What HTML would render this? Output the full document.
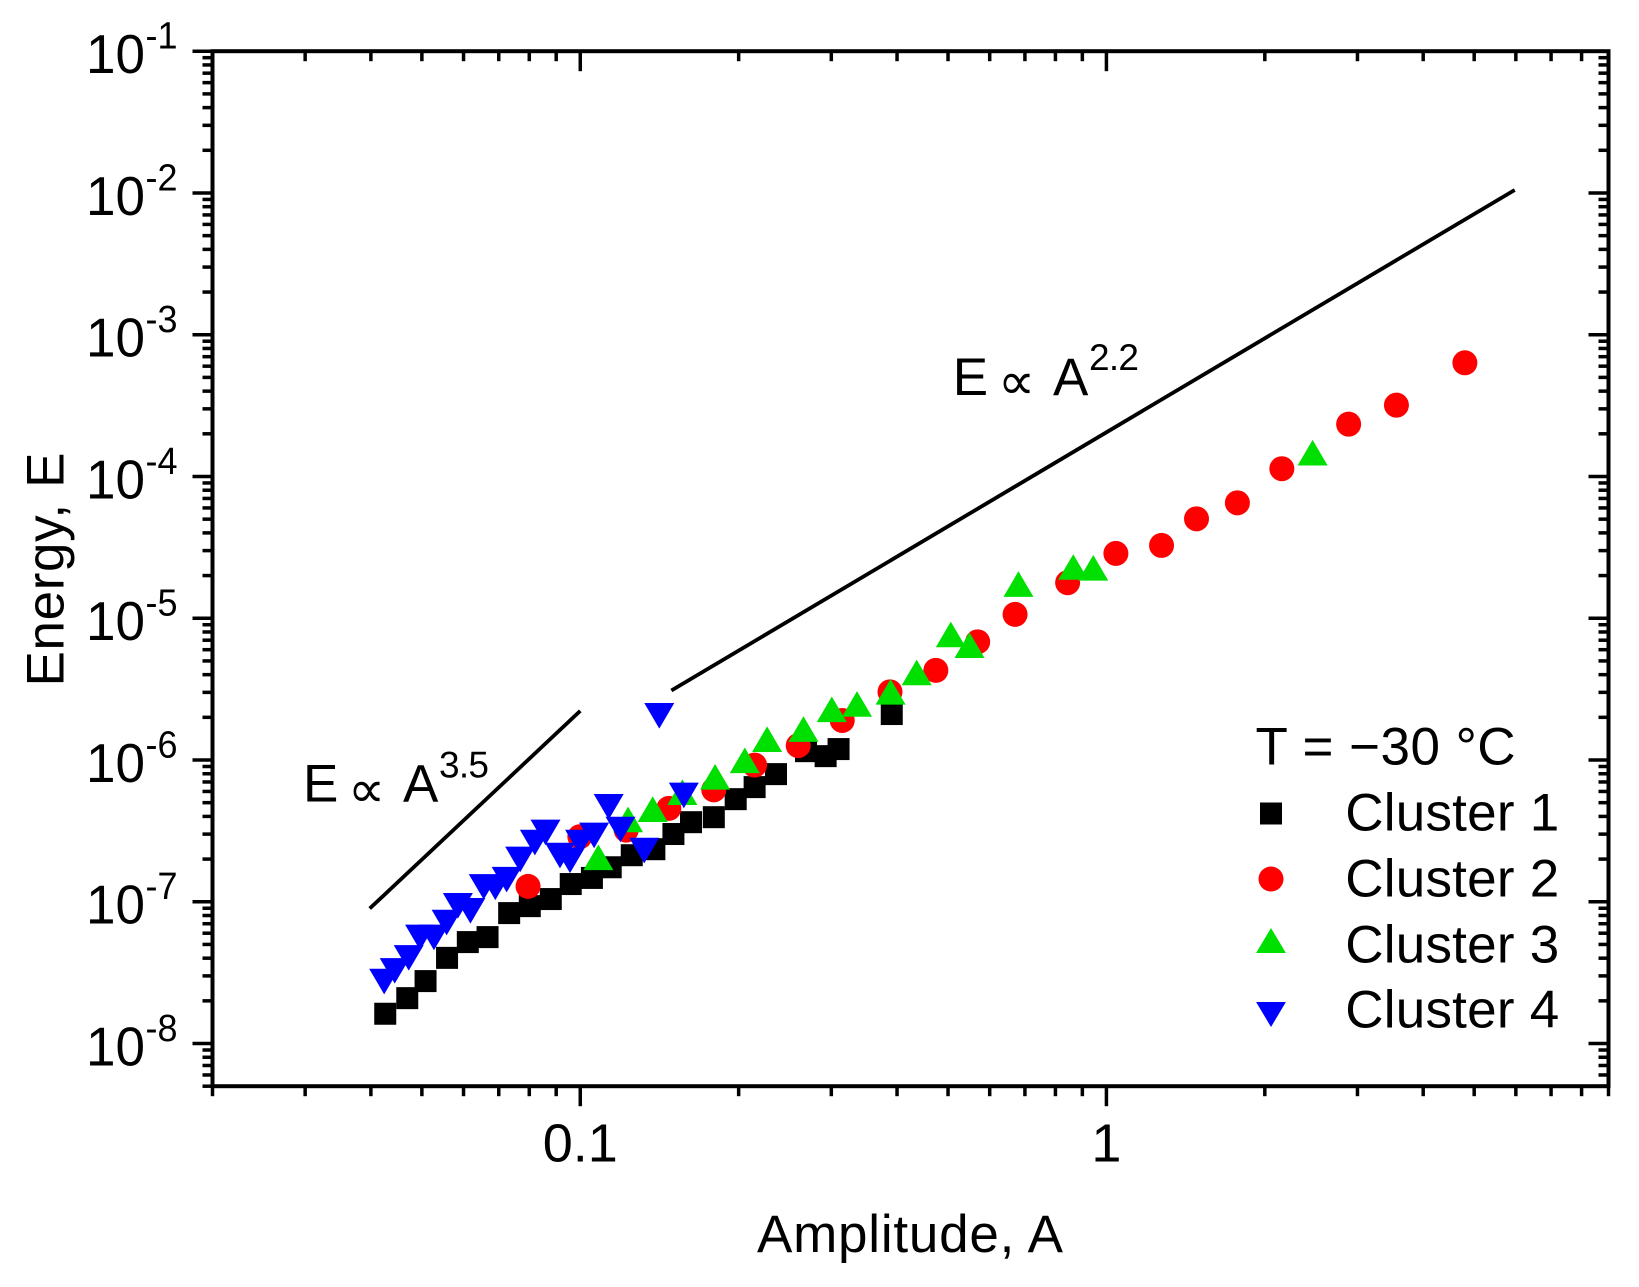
<!DOCTYPE html>
<html lang="en">
<head>
<meta charset="utf-8">
<title>Energy vs Amplitude</title>
<style>
html,body{margin:0;padding:0;background:#fff;}
svg{display:block;}
text{font-family:"Liberation Sans",Arial,sans-serif;fill:#000;}
.prop{font-family:"DejaVu Sans",sans-serif;font-size:52px;}
.big{font-size:53px;}
.sup{font-size:37px;}
</style>
</head>
<body>
<svg id="chart" xmlns="http://www.w3.org/2000/svg" width="1639" height="1287" viewBox="0 0 1639 1287">
  <rect x="0" y="0" width="1639" height="1287" fill="#fff"/>
  <g id="ticks"></g>
  <g id="labels"></g>
  <g id="marks"></g>
  <g id="guides"></g>
  <rect x="212.5" y="51.2" width="1396" height="1035" fill="none" stroke="#000" stroke-width="4"/>

  <text class="big" x="757" y="1252" textLength="306" lengthAdjust="spacing">Amplitude, A</text>
  <text class="big" transform="translate(63.3,686.5) rotate(-90)" x="0" y="0" textLength="234" lengthAdjust="spacing">Energy, E</text>

  <g>
    <text class="big" x="303" y="801.7">E</text>
    <text class="prop" x="348" y="807">∝</text>
    <text class="big" x="403" y="801.7">A</text>
    <text class="sup" x="439" y="777.3" textLength="50" lengthAdjust="spacing">3.5</text>
  </g>
  <g>
    <text class="big" x="952.7" y="395">E</text>
    <text class="prop" x="998" y="399">∝</text>
    <text class="big" x="1053" y="395">A</text>
    <text class="sup" x="1089" y="370" textLength="50" lengthAdjust="spacing">2.2</text>
  </g>

  <g>
    <text class="big" x="1255.5" y="764.3" textLength="260" lengthAdjust="spacing">T = −30 °C</text>
    <rect x="1260" y="802.5" width="22" height="22" fill="#000"/>
    <text class="big" x="1345.2" y="830.7" textLength="214" lengthAdjust="spacing">Cluster 1</text>
    <circle cx="1271" cy="879" r="12.5" fill="#ff0000"/>
    <text class="big" x="1345.2" y="896.7" textLength="214" lengthAdjust="spacing">Cluster 2</text>
    <polygon points="1271,928 1285.9,953 1256.1,953" fill="#00e000"/>
    <text class="big" x="1345.2" y="962.3" textLength="214" lengthAdjust="spacing">Cluster 3</text>
    <polygon points="1256.1,1002 1285.9,1002 1271,1027" fill="#0000ff"/>
    <text class="big" x="1345.2" y="1027.7" textLength="214" lengthAdjust="spacing">Cluster 4</text>
  </g>
</svg>
<script>
// ---- data ----
const cluster1A = [0.0425,0.0468,0.0507,0.0557,0.0610,0.0665,0.0731,0.0800,0.0877,0.0957,0.105,0.114,0.125,0.138,0.150,0.162,0.179,0.197,0.214,0.235,0.268,0.292,0.309,0.390];
const cluster1E = [1.63e-8,2.10e-8,2.77e-8,4.04e-8,5.22e-8,5.66e-8,8.36e-8,9.36e-8,1.05e-7,1.34e-7,1.48e-7,1.76e-7,2.14e-7,2.36e-7,3.02e-7,3.66e-7,3.97e-7,5.32e-7,6.47e-7,7.99e-7,1.16e-6,1.07e-6,1.20e-6,2.12e-6];
const cluster2A = [0.0794,0.0996,0.122,0.147,0.179,0.214,0.259,0.314,0.387,0.473,0.568,0.669,0.842,1.04,1.27,1.48,1.77,2.15,2.88,3.55,4.79];
const cluster2E = [1.29e-7,2.89e-7,3.22e-7,4.58e-7,6.19e-7,9.25e-7,1.27e-6,1.91e-6,3.04e-6,4.31e-6,6.85e-6,1.07e-5,1.79e-5,2.88e-5,3.28e-5,5.05e-5,6.55e-5,1.14e-4,2.35e-4,3.20e-4,6.37e-4];
const cluster3A = [0.108,0.123,0.137,0.156,0.180,0.205,0.226,0.265,0.300,0.335,0.388,0.435,0.505,0.548,0.679,0.863,0.942,2.46];
const cluster3E = [2.07e-7,3.83e-7,4.52e-7,5.96e-7,7.65e-7,1.00e-6,1.41e-6,1.66e-6,2.29e-6,2.50e-6,3.04e-6,4.17e-6,7.73e-6,6.49e-6,1.75e-5,2.31e-5,2.28e-5,1.48e-4];
const cluster4A = [0.0423,0.0443,0.0471,0.0495,0.0526,0.0556,0.0584,0.0617,0.0654,0.0688,0.0723,0.0767,0.0818,0.0857,0.0913,0.0954,0.0997,0.106,0.113,0.119,0.132,0.141,0.157];
const cluster4E = [2.75e-8,3.27e-8,4.04e-8,5.63e-8,5.63e-8,7.17e-8,9.41e-8,8.67e-8,1.28e-7,1.27e-7,1.44e-7,2.00e-7,2.63e-7,3.10e-7,2.13e-7,1.97e-7,2.63e-7,2.95e-7,4.70e-7,3.25e-7,2.31e-7,2.06e-6,5.65e-7];
const guideSteepA = [0.0398,0.1];
const guideSteepE = [8.96e-8,2.22e-6];
const guideShallowA = [0.149,5.97];
const guideShallowE = [3.09e-6,1.05e-2];
const xDecades = [0.01,0.1,1];
const xTickLabels = ['0.1','1'];
const xTickLabelValues = [0.1,1];
const yExponents = [-1,-2,-3,-4,-5,-6,-7,-8];
const yDecades = [-9,-8,-7,-6,-5,-4,-3,-2];

// ---- axis functions ----
const xLeft = 212.5, xRight = 1608.5, yTop = 51.2, yBottom = 1086.2;
const xMin = 0.02, xMax = 9, yMin = 5e-9, yMax = 0.1;
const markNudgeX = 0.5, markNudgeY = 0.3;
function xScale(a){
  return xLeft + (Math.log10(a) - Math.log10(xMin)) / (Math.log10(xMax) - Math.log10(xMin)) * (xRight - xLeft);
}
function yScale(e){
  return yBottom - (Math.log10(e) - Math.log10(yMin)) / (Math.log10(yMax) - Math.log10(yMin)) * (yBottom - yTop);
}

const NS = 'http://www.w3.org/2000/svg';
const ticksG = document.getElementById('ticks');
const labelsG = document.getElementById('labels');
const marksG = document.getElementById('marks');
const guidesG = document.getElementById('guides');

function make(tag, parent){
  const el = document.createElementNS(NS, tag);
  parent.appendChild(el);
  return el;
}
function tickLine(x1, y1, x2, y2){
  const el = make('line', ticksG);
  el.setAttribute('x1', x1);
  el.setAttribute('y1', y1);
  el.setAttribute('x2', x2);
  el.setAttribute('y2', y2);
  el.setAttribute('stroke', '#000');
  el.setAttribute('stroke-width', '3.5');
  
  
}

// x ticks: outward at the bottom, inward at the top
xDecades.forEach(function(decade){
  for (let m = 1; m <= 9; m++){
    const v = decade * m;
    if (v < xMin * 0.999 || v > xMax * 1.001) continue;
    const len = m === 1 ? 20 : 10;
    const x = xScale(v);
    tickLine(x, yBottom, x, yBottom + len);
    tickLine(x, yTop, x, yTop + len);
  }
});
// y ticks: outward on the left, inward on the right
yDecades.forEach(function(exp){
  for (let m = 1; m <= 9; m++){
    const v = m * Math.pow(10, exp);
    if (v < yMin * 0.999 || v > yMax * 1.001) continue;
    const len = m === 1 ? 20 : 10;
    const y = yScale(v);
    tickLine(xLeft - len, y, xLeft, y);
    tickLine(xRight - len, y, xRight, y);
  }
});
[yMax].forEach(function(v){
  const y = yScale(v);
  tickLine(xLeft - 20, y, xLeft, y);
  tickLine(xRight - 20, y, xRight, y);
});

// tick labels
xTickLabels.forEach(function(label, i){
  const el = make('text', labelsG);
  el.setAttribute('x', xScale(xTickLabelValues[i]));
  el.setAttribute('y', 1161.7);
  el.setAttribute('text-anchor', 'middle');
  el.setAttribute('font-size', '54');
  el.textContent = label;
  
  
});
yExponents.forEach(function(exp){
  const y = yScale(Math.pow(10, exp));
  const base = make('text', labelsG);
  base.setAttribute('x', 86);
  base.setAttribute('y', y + 21.8);
  base.setAttribute('font-size', '55');
  base.setAttribute('textLength', '59');
  base.setAttribute('lengthAdjust', 'spacingAndGlyphs');
  base.textContent = '10';
  
  
  const power = make('text', labelsG);
  power.setAttribute('x', 145.5);
  power.setAttribute('y', y - 2.6);
  power.setAttribute('font-size', '38');
  power.setAttribute('textLength', '32');
  power.setAttribute('lengthAdjust', 'spacingAndGlyphs');
  power.textContent = String(exp);
  
  
});

// series
cluster1A.forEach(function(a, i){
  const el = make('rect', marksG);
  el.setAttribute('x', xScale(a) + markNudgeX - 11);
  el.setAttribute('y', yScale(cluster1E[i]) + markNudgeY - 11);
  el.setAttribute('width', 22);
  el.setAttribute('height', 22);
  el.setAttribute('fill', '#000');
  
  
});
cluster2A.forEach(function(a, i){
  const el = make('circle', marksG);
  el.setAttribute('cx', xScale(a) + markNudgeX);
  el.setAttribute('cy', yScale(cluster2E[i]) + markNudgeY);
  el.setAttribute('r', 12.5);
  el.setAttribute('fill', '#ff0000');
  
  
});
cluster3A.forEach(function(a, i){
  const x = xScale(a) + markNudgeX, y = yScale(cluster3E[i]) + markNudgeY;
  const el = make('polygon', marksG);
  el.setAttribute('points', x + ',' + (y - 12.8) + ' ' + (x + 15) + ',' + (y + 12.8) + ' ' + (x - 15) + ',' + (y + 12.8));
  el.setAttribute('fill', '#00e000');
  
  
});
cluster4A.forEach(function(a, i){
  const x = xScale(a) + markNudgeX, y = yScale(cluster4E[i]) + markNudgeY;
  const el = make('polygon', marksG);
  el.setAttribute('points', (x - 15) + ',' + (y - 12.8) + ' ' + (x + 15) + ',' + (y - 12.8) + ' ' + x + ',' + (y + 12.8));
  el.setAttribute('fill', '#0000ff');
  
  
});

// guide lines
const guideSteep = make('line', guidesG);
guideSteep.setAttribute('x1', xScale(guideSteepA[0]));
guideSteep.setAttribute('y1', yScale(guideSteepE[0]));
guideSteep.setAttribute('x2', xScale(guideSteepA[1]));
guideSteep.setAttribute('y2', yScale(guideSteepE[1]));
guideSteep.setAttribute('stroke', '#000');
guideSteep.setAttribute('stroke-width', '3.8');



const guideShallow = make('line', guidesG);
guideShallow.setAttribute('x1', xScale(guideShallowA[0]));
guideShallow.setAttribute('y1', yScale(guideShallowE[0]));
guideShallow.setAttribute('x2', xScale(guideShallowA[1]));
guideShallow.setAttribute('y2', yScale(guideShallowE[1]));
guideShallow.setAttribute('stroke', '#000');
guideShallow.setAttribute('stroke-width', '3.8');


</script>
</body>
</html>
